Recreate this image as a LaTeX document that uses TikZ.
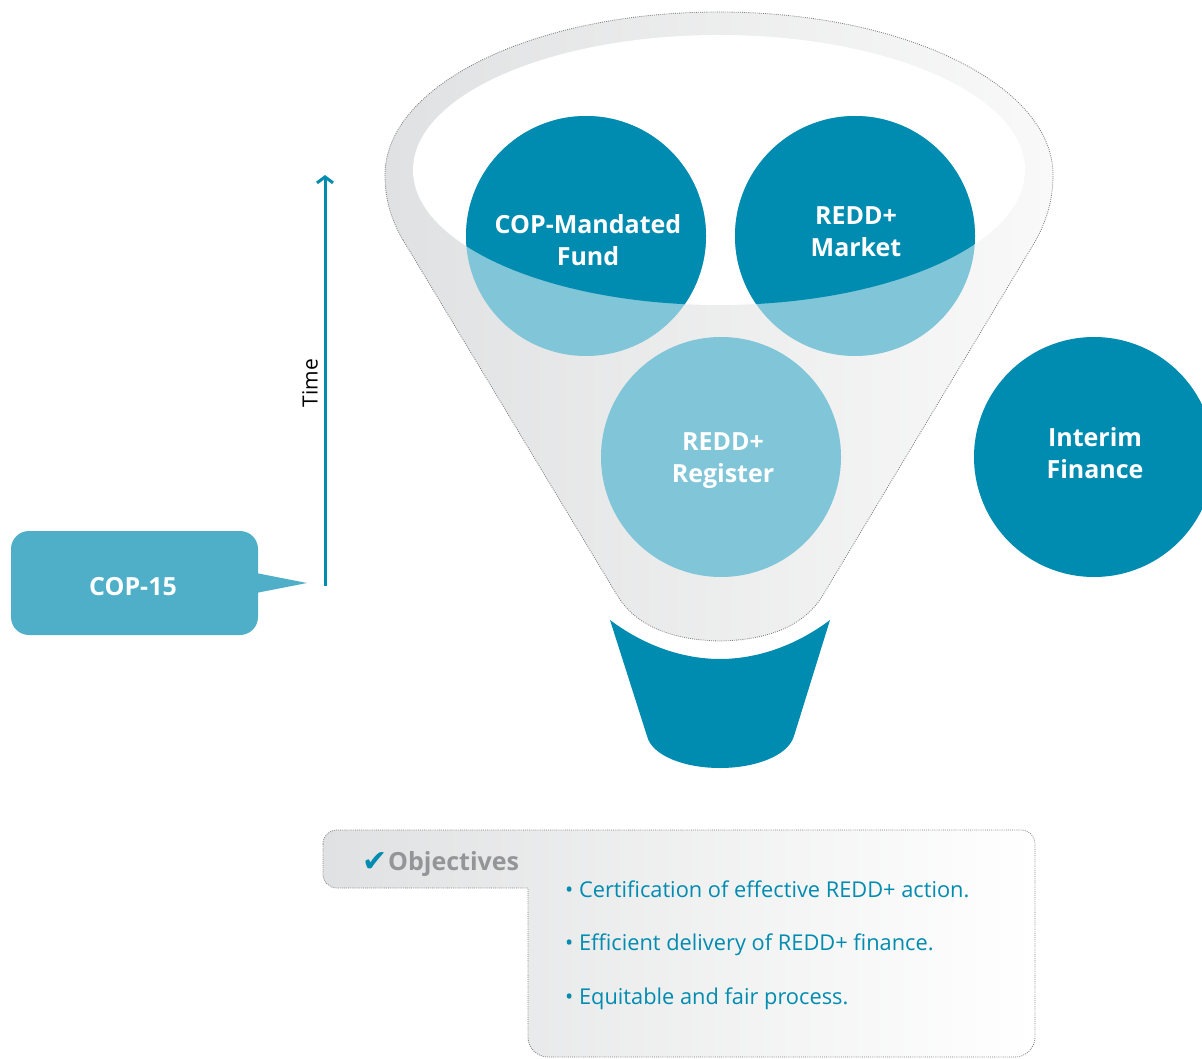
\documentclass[tikz,border=0pt]{standalone}
\usepackage{fontspec}
\setmainfont{Open Sans}
\newfontfamily\symfont{DejaVu Sans}
\usetikzlibrary{arrows.meta}
\definecolor{tealD}{RGB}{0,139,176}
\definecolor{tealL}{RGB}{128,197,216}
\definecolor{calloutC}{RGB}{79,175,200}
\definecolor{funL}{RGB}{224,225,226}
\definecolor{funR}{RGB}{249,249,249}
\definecolor{objL}{RGB}{224,225,226}
\definecolor{dotC}{RGB}{125,125,125}
\definecolor{objGray}{RGB}{147,149,152}
\begin{document}
\begin{tikzpicture}[x=1pt,y=-1pt,
  circtext/.style={text=white,font=\bfseries\fontsize{25}{32}\selectfont,align=center,inner sep=0pt},
  dotline/.style={draw=dotC,line width=0.8pt,dash pattern=on 0.9pt off 1.2pt},
  bullet/.style={anchor=base west,text=tealD,font=\fontsize{21.8}{26}\selectfont,inner sep=0pt},
]
\useasboundingbox (0,0) rectangle (1202,1059);
% funnel body
\path[dotline, left color=funL, right color=funR]
  (403,240) .. controls (390,218) and (385,197) .. (385,175)
  .. controls (385,85) and (534,12) .. (719,12)
  .. controls (904,12) and (1053,85) .. (1053,175)
  .. controls (1053,197) and (1048,218) .. (1036,240)
  -- (823,595) .. controls (805,625) and (770,640) .. (720,641)
  .. controls (670,640) and (635,625) .. (617,595) -- cycle;
% funnel opening
\fill[white] (719,170) ellipse [x radius=306pt, y radius=135pt];
% circles
\fill[tealL] (586,236) circle[radius=120pt];
\fill[tealL] (855,236) circle[radius=120pt];
\begin{scope}
  \clip (719,170) ellipse [x radius=306pt, y radius=135pt];
  \fill[tealD] (586,236) circle[radius=120pt];
  \fill[tealD] (855,236) circle[radius=120pt];
\end{scope}
\fill[tealL] (721,457) circle[radius=120pt];
\fill[tealD] (1094,457) circle[radius=120pt];
% spout
\fill[tealD] (610,620) .. controls (650,650) and (690,659) .. (720,659)
  .. controls (750,659) and (790,650) .. (830,620)
  -- (794,736) .. controls (788,756) and (755,768) .. (720,768)
  .. controls (685,768) and (652,756) .. (647,736) -- cycle;
% circle labels
\node[circtext] (fund) at (588,240) {COP-Mandated\\Fund};
\node[circtext] (market) at (856,232) {REDD+\\Market};
\node[circtext] (register) at (723,461) {REDD+\\Register};
\node[circtext] (interim) at (1095,453) {Interim\\Finance};
% COP-15 callout
\node[fill=calloutC, rounded corners=18pt, minimum width=247pt, minimum height=104pt,
  inner sep=0pt] (cop) at (134.5,583) {};
\fill[calloutC] (256,573) -- (307,583) -- (256,593) -- cycle;
\node[text=white, font=\bfseries\fontsize{25}{30}\selectfont, inner sep=0pt] (coptext) at (133,587) {COP-15};
% time arrow
\coordinate (tbot) at (325,586);
\coordinate (ttop) at (325,175);
\draw[tealD, line width=3pt, -{Straight Barb[length=6pt,width=16pt,line width=3pt]}] (tbot) -- (ttop);
\node[rotate=90, font=\fontsize{21}{24}\selectfont, inner sep=0pt] (time) at (310,383) {Time};
% objectives box
\path[dotline, left color=objL, right color=white]
  (323,844) .. controls (323,836) and (329,830) .. (337,830)
  -- (1021,830) .. controls (1029,830) and (1035,836) .. (1035,844)
  -- (1035,1037) .. controls (1035,1048) and (1026,1057) .. (1015,1057)
  -- (548,1057) .. controls (537,1057) and (528,1048) .. (528,1037)
  -- (528,888) -- (337,888) .. controls (329,888) and (323,882) .. (323,874) -- cycle;
\node[anchor=base west, text=tealD, font=\symfont\fontsize{30}{34}\selectfont, inner sep=0pt] (check) at (362,871) {✔};
\node[anchor=base west, text=objGray, font=\bfseries\fontsize{25}{30}\selectfont, inner sep=0pt] (obj) at (388,870) {Objectives};
\node[bullet] (b1) at (565,897) {• Certification of effective REDD+ action.};
\node[bullet] (b2) at (565,950) {• Efficient delivery of REDD+ finance.};
\node[bullet] (b3) at (565,1004) {• Equitable and fair process.};
\end{tikzpicture}
\end{document}
